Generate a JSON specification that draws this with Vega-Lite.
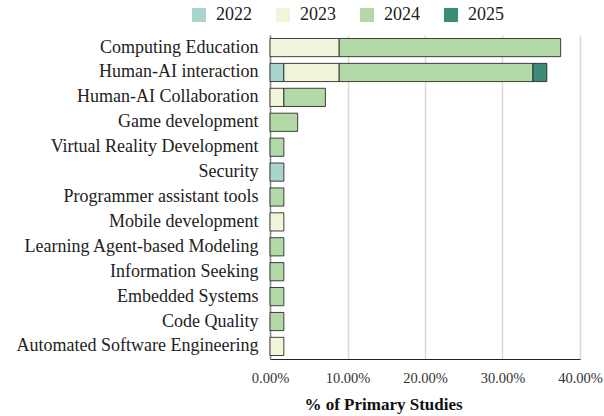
{
  "$schema": "https://vega.github.io/schema/vega-lite/v6.json",
  "autosize": "none",
  "width": 310,
  "height": 324,
  "padding": {"left": 270, "top": 35, "right": 24, "bottom": 57},
  "background": "white",
  "data": {
    "values": [
      {"area": "Computing Education", "year": "2023", "pct": 0.0893},
      {"area": "Computing Education", "year": "2024", "pct": 0.2857},
      {"area": "Human-AI interaction", "year": "2022", "pct": 0.0179},
      {"area": "Human-AI interaction", "year": "2023", "pct": 0.0714},
      {"area": "Human-AI interaction", "year": "2024", "pct": 0.25},
      {"area": "Human-AI interaction", "year": "2025", "pct": 0.0179},
      {"area": "Human-AI Collaboration", "year": "2023", "pct": 0.0179},
      {"area": "Human-AI Collaboration", "year": "2024", "pct": 0.0536},
      {"area": "Game development", "year": "2024", "pct": 0.0357},
      {"area": "Virtual Reality Development ", "year": "2024", "pct": 0.0179},
      {"area": "Security", "year": "2022", "pct": 0.0179},
      {"area": "Programmer assistant tools", "year": "2024", "pct": 0.0179},
      {"area": "Mobile development", "year": "2023", "pct": 0.0179},
      {"area": "Learning Agent-based Modeling", "year": "2024", "pct": 0.0179},
      {"area": "Information Seeking", "year": "2024", "pct": 0.0179},
      {"area": "Embedded Systems", "year": "2024", "pct": 0.0179},
      {"area": "Code Quality", "year": "2024", "pct": 0.0179},
      {"area": "Automated Software Engineering", "year": "2023", "pct": 0.0179}
    ]
  },
  "mark": {"type": "bar", "stroke": "#222222", "strokeWidth": 1, "strokeOpacity": 0.85},
  "encoding": {
    "y": {
      "field": "area",
      "type": "nominal",
      "sort": [
        "Computing Education", "Human-AI interaction", "Human-AI Collaboration", "Game development",
        "Virtual Reality Development ", "Security", "Programmer assistant tools", "Mobile development",
        "Learning Agent-based Modeling", "Information Seeking", "Embedded Systems", "Code Quality",
        "Automated Software Engineering"
      ],
      "scale": {"paddingInner": 0.27, "paddingOuter": 0.14},
      "axis": {
        "title": null,
        "ticks": false,
        "domain": true,
        "domainColor": "#888888",
        "domainWidth": 1.5,
        "labelFont": "Liberation Serif, Times New Roman, serif",
        "labelFontSize": 18,
        "labelColor": "#222222",
        "labelPadding": 12,
        "labelLimit": 300
      }
    },
    "x": {
      "field": "pct",
      "type": "quantitative",
      "aggregate": "sum",
      "stack": "zero",
      "scale": {"domain": [0, 0.4], "nice": false},
      "axis": {
        "title": "% of Primary Studies",
        "titleFont": "Liberation Serif, Times New Roman, serif",
        "titleFontSize": 17,
        "titleFontWeight": "bold",
        "titleColor": "#111111",
        "titlePadding": 12,
        "titleX": 113,
        "titleAlign": "center",
        "format": ".2%",
        "values": [0, 0.1, 0.2, 0.3, 0.4],
        "labelFlush": false,
        "labelFont": "Liberation Serif, Times New Roman, serif",
        "labelFontSize": 14.5,
        "labelColor": "#333333",
        "labelPadding": 12,
        "ticks": false,
        "domain": true,
        "domainColor": "#222222",
        "grid": true,
        "gridColor": "#d9d9d9",
        "gridWidth": 1.5
      }
    },
    "color": {
      "field": "year",
      "type": "nominal",
      "scale": {
        "domain": ["2022", "2023", "2024", "2025"],
        "range": ["#a8d5cc", "#f1f6da", "#b3d9a7", "#3b8c78"]
      },
      "legend": {
        "title": null,
        "orient": "none",
        "direction": "horizontal",
        "legendX": -80,
        "legendY": -29,
        "symbolType": "square",
        "symbolSize": 200,
        "symbolStrokeWidth": 0,
        "labelFont": "Liberation Serif, Times New Roman, serif",
        "labelFontSize": 18,
        "labelColor": "#222222",
        "columnPadding": 22,
        "labelOffset": 8
      }
    },
    "order": {"field": "year", "type": "nominal"}
  },
  "config": {"view": {"stroke": null}}
}
